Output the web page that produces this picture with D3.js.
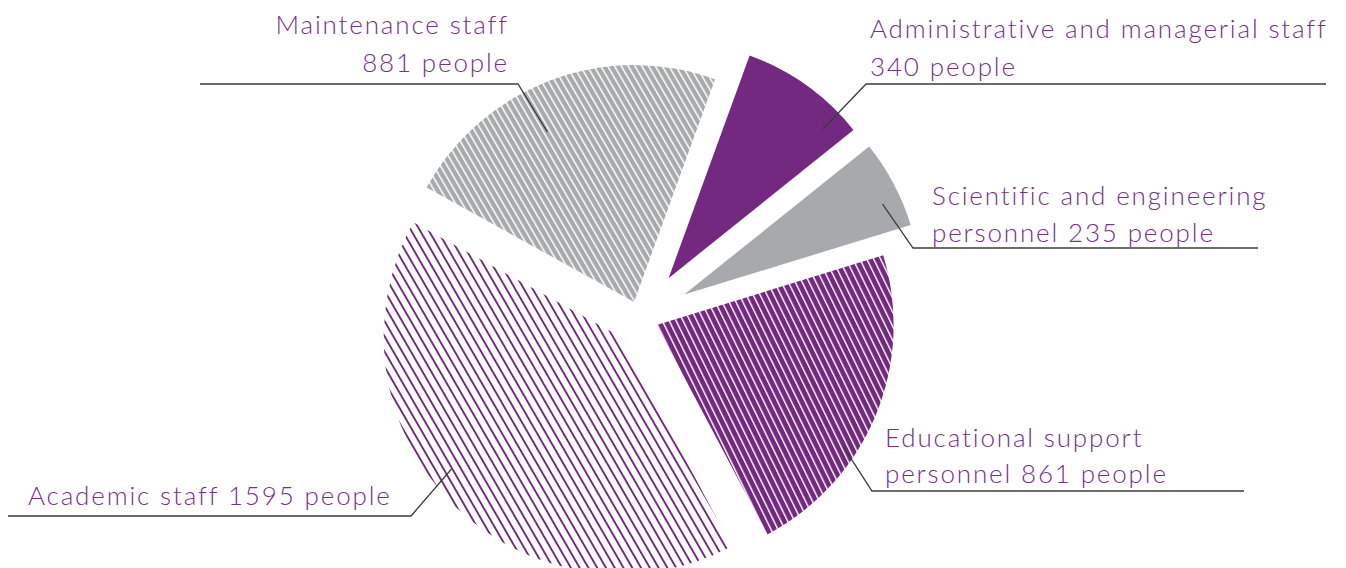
<!DOCTYPE html>
<html>
<head>
<meta charset="utf-8">
<script src="https://cdn.jsdelivr.net/npm/d3@7"></script>
<style>
  html, body { margin: 0; padding: 0; background: #ffffff; }
  svg { display: block; }
  .label { font-family: Lato, "Open Sans", sans-serif; font-weight: 300; fill: #76308a; letter-spacing: 1.85px; }
</style>
</head>
<body>
<svg id="chart" width="1346" height="568"></svg>
<script>
// Staff structure, number of people per category (clockwise from the top)
const categories = [
  "Administrative and managerial staff",
  "Scientific and engineering personnel",
  "Educational support personnel",
  "Academic staff",
  "Maintenance staff"
];
const values = [340, 235, 861, 1595, 881];
// Label text per slice; "{v}" is replaced by the slice value
const labelLines = [
  ["Administrative and managerial staff", "{v} people"],
  ["Scientific and engineering", "personnel {v} people"],
  ["Educational support", "personnel {v} people"],
  ["Academic staff {v} people"],
  ["Maintenance staff", "{v} people"]
];

// ---- look ----
const PURPLE = "#73297f";
const GRAY = "#a7a9ac";
const fills = ["solid-purple", "solid-gray", "hatch-purple", "lines-purple", "hatch-gray"];
const explode = [49, 50, 18, 27, 17];

// ---- layout ----
const W = 1346, H = 568;
const cx = 640, cy = 318, R = 237;
const labelLayout = [
  { x: 870, anchor: "start", baselines: [38, 76], lead: { deg: 46, r: 214 }, elbow: [866, 84], endX: 1326 },
  { x: 932, anchor: "start", baselines: [205, 242], lead: { deg: 65.5, r: 218 }, elbow: [913, 248], endX: 1258 },
  { x: 885, anchor: "start", baselines: [447, 483], lead: { deg: 123, r: 222 }, elbow: [872, 491], endX: 1244 },
  { x: 28, anchor: "start", baselines: [505], lead: { deg: 232, r: 215 }, elbow: [411, 516], endX: 8 },
  { x: 509, anchor: "end", baselines: [34, 72], lead: { deg: 333, r: 191 }, elbow: [518, 84], endX: 200 }
];

const svg = d3.select("#chart");
const defs = svg.append("defs");

// solid fills
function solid(id, color) {
  const p = defs.append("pattern").attr("id", id)
    .attr("patternUnits", "userSpaceOnUse").attr("width", 10).attr("height", 10);
  p.append("rect").attr("width", 10).attr("height", 10).attr("fill", color);
}
// stripes: background colour with lines of another colour, rotated
function stripes(id, bg, fg, spacing, lineW, rot) {
  const p = defs.append("pattern").attr("id", id)
    .attr("patternUnits", "userSpaceOnUse")
    .attr("width", spacing).attr("height", 20)
    .attr("patternTransform", `rotate(${rot})`);
  if (bg) p.append("rect").attr("width", spacing).attr("height", 20).attr("fill", bg);
  p.append("rect").attr("x", 0).attr("y", 0).attr("width", lineW).attr("height", 20).attr("fill", fg);
}
solid("solid-purple", PURPLE);
solid("solid-gray", GRAY);
stripes("hatch-purple", PURPLE, "#ffffff", 6.2, 1.4, -26);
stripes("lines-purple", null, PURPLE, 7.6, 1.9, -30);
stripes("hatch-gray", GRAY, "#ffffff", 5.9, 1.5, -30);

const pie = d3.pie().sort(null).value(d => d)
  .startAngle(20 * Math.PI / 180)
  .endAngle(380 * Math.PI / 180);
const arcs = pie(values);
const arc = d3.arc().innerRadius(0).outerRadius(R);

const root = svg.append("g").attr("transform", `translate(${cx},${cy})`);

function offsetOf(a, i) {
  const mid = (a.startAngle + a.endAngle) / 2;
  return [explode[i] * Math.sin(mid), -explode[i] * Math.cos(mid)];
}

root.selectAll("path.slice")
  .data(arcs)
  .join("path")
  .attr("class", "slice")
  .attr("transform", (a, i) => { const o = offsetOf(a, i); return `translate(${o[0]},${o[1]})`; })
  .attr("d", arc)
  .attr("fill", (a, i) => `url(#${fills[i]})`);

// leader lines
const leaders = svg.append("g");
arcs.forEach((a, i) => {
  const L = labelLayout[i];
  const o = offsetOf(a, i);
  const ang = L.lead.deg * Math.PI / 180;
  const sx = cx + o[0] + L.lead.r * Math.sin(ang);
  const sy = cy + o[1] - L.lead.r * Math.cos(ang);
  leaders.append("polyline")
    .attr("points", [[sx, sy], L.elbow, [L.endX, L.elbow[1]]].map(p => p.join(",")).join(" "))
    .attr("fill", "none")
    .attr("stroke", "#3c3c3c")
    .attr("stroke-width", 1.3);
});

// labels
const labels = svg.append("g");
arcs.forEach((a, i) => {
  const L = labelLayout[i];
  labelLines[i].forEach((line, k) => {
    labels.append("text")
      .attr("class", "label")
      .attr("x", L.x)
      .attr("y", L.baselines[k])
      .attr("text-anchor", L.anchor)
      .attr("font-size", 26)
      .text(line.replace("{v}", values[i]));
  });
});
</script>
</body>
</html>
